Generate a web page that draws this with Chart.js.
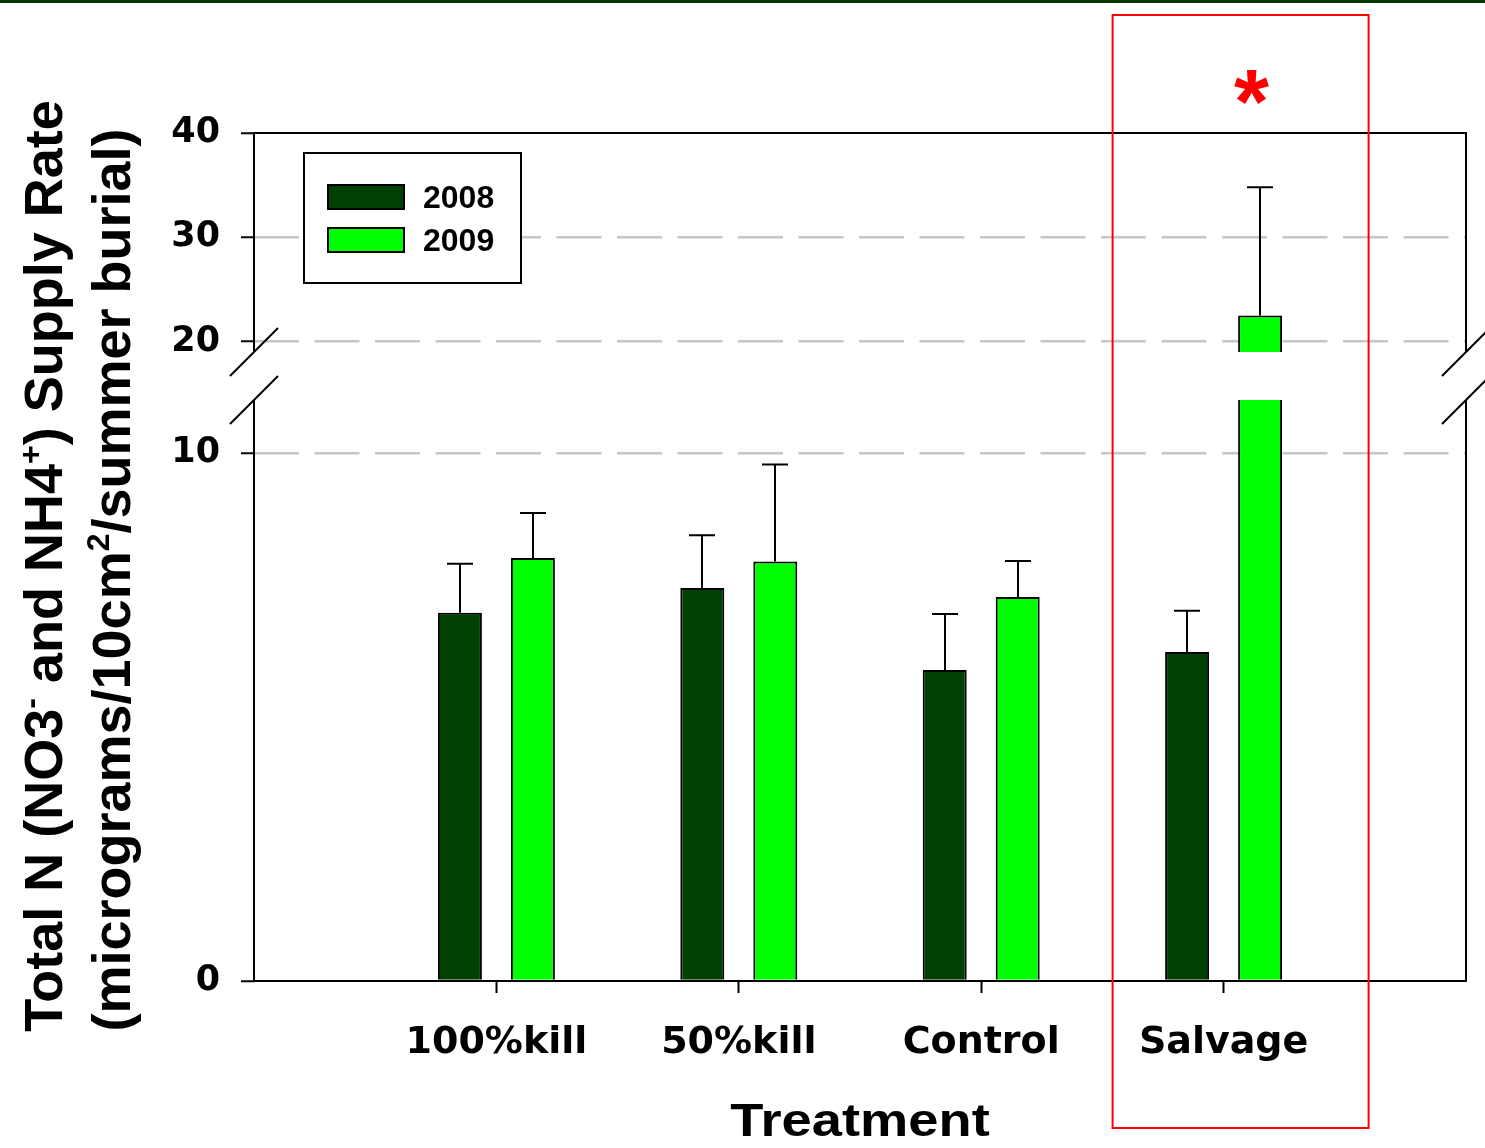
<!DOCTYPE html>
<html><head><meta charset="utf-8">
<script src="https://cdn.jsdelivr.net/npm/chart.js@4.4.1/dist/chart.umd.min.js"></script>
<style>html,body{margin:0;padding:0;background:#fff;overflow:hidden}canvas{display:block}</style>
</head><body><canvas id="c" width="1485" height="1148"></canvas>
<script>
// ---- data ----
const categories = ['', '100%kill', '50%kill', 'Control', 'Salvage', ''];
const seriesLabels = ['2008', '2009'];
const values2008 = [null, 6.97, 7.44, 5.89, 6.23, null];
const errors2008 = [null, 0.93, 1.00, 1.06, 0.78, null];
const values2009 = [null, 8.01, 7.94, 7.27, 22.5, null];
const errors2009 = [null, 0.85, 1.84, 0.68, 12.3, null];
const yTickValues = [0, 10, 20, 30, 40];
const yGridValues = [10, 20, 30];
const yBreakRange = [11, 19];
const significantCategory = 'Salvage';

// ---- broken linear scale ----
const BREAK_FRAC = [581 / 848, 629 / 848];
class BrokenLinearScale extends Chart.LinearScale {
  _knots() {
    return [[this.min, 0], [yBreakRange[0], BREAK_FRAC[0]], [yBreakRange[1], BREAK_FRAC[1]], [this.max, 1]];
  }
  getPixelForValue(value) {
    const k = this._knots();
    let i = 1;
    while (i < k.length - 1 && value > k[i][0]) i++;
    const a = k[i - 1], b = k[i];
    const f = a[1] + (value - a[0]) / (b[0] - a[0]) * (b[1] - a[1]);
    return this.bottom - f * (this.bottom - this.top);
  }
  getValueForPixel(pixel) {
    const f = (this.bottom - pixel) / (this.bottom - this.top);
    const k = this._knots();
    let i = 1;
    while (i < k.length - 1 && f > k[i][1]) i++;
    const a = k[i - 1], b = k[i];
    return a[0] + (f - a[1]) / (b[1] - a[1]) * (b[0] - a[0]);
  }
}
BrokenLinearScale.id = 'brokenLinear';
Chart.register(BrokenLinearScale);

const SANS = '"Liberation Sans", Arial, sans-serif';

function drawRich(ctx, cx, cy, segs, size) {
  const base = `bold ${size}px ${SANS}`;
  const sup = `bold ${Math.round(size * 0.6)}px ${SANS}`;
  let total = 0;
  segs.forEach(s => { ctx.font = s.sup ? sup : base; s.w = ctx.measureText(s.t).width; total += s.w; });
  ctx.save();
  ctx.translate(cx, cy);
  ctx.rotate(-Math.PI / 2);
  ctx.textAlign = 'left';
  ctx.textBaseline = 'alphabetic';
  ctx.fillStyle = '#000';
  let x = -total / 2;
  segs.forEach(s => { ctx.font = s.sup ? sup : base; ctx.fillText(s.t, x, s.sup ? -size * 0.38 : 0); x += s.w; });
  ctx.restore();
}

const decorPlugin = {
  id: 'decor',
  beforeDraw(chart) {
    const ctx = chart.ctx;
    ctx.save(); ctx.fillStyle = '#fff'; ctx.fillRect(0, 0, chart.width, chart.height); ctx.restore();
  },
  afterDatasetsDraw(chart) {
    const ctx = chart.ctx, ys = chart.scales.y, ca = chart.chartArea;
    const bTop = ys.getPixelForValue(yBreakRange[1]);
    const bBot = ys.getPixelForValue(yBreakRange[0]);
    ctx.save();
    ctx.fillStyle = '#fff';
    ctx.fillRect(ca.left + 2, bTop, ca.right - ca.left - 4, bBot - bTop);
    ctx.strokeStyle = '#000';
    ctx.lineWidth = 2;
    chart.data.datasets.forEach((ds, di) => {
      const meta = chart.getDatasetMeta(di);
      meta.data.forEach((bar, i) => {
        const v = ds.data[i], e = ds.errors[i];
        if (v == null || e == null) return;
        const top = ys.getPixelForValue(v + e);
        const x = Math.round(bar.x);
        ctx.beginPath();
        ctx.moveTo(x, bar.y); ctx.lineTo(x, top);
        ctx.moveTo(x - 13, top); ctx.lineTo(x + 13, top);
        ctx.stroke();
      });
    });
    ctx.restore();
  },
  afterDraw(chart) {
    const ctx = chart.ctx, ys = chart.scales.y, xs = chart.scales.x, ca = chart.chartArea;
    const bTop = ys.getPixelForValue(yBreakRange[1]);
    const bBot = ys.getPixelForValue(yBreakRange[0]);
    ctx.save();
    ctx.strokeStyle = '#000';
    ctx.lineWidth = 2;
    ctx.beginPath();
    ctx.moveTo(ca.left - 1, ca.top); ctx.lineTo(ca.right + 1, ca.top);
    ctx.moveTo(ca.left - 1, ca.bottom); ctx.lineTo(ca.right + 1, ca.bottom);
    [ca.left, ca.right].forEach(x => {
      ctx.moveTo(x, ca.top); ctx.lineTo(x, bTop - 1);
      ctx.moveTo(x, bBot); ctx.lineTo(x, ca.bottom);
      [bTop, bBot].forEach(y => {
        ctx.moveTo(x - 24, y + 24); ctx.lineTo(x + 24, y - 24);
      });
    });
    ctx.stroke();

    // legend
    const lx = 304, ly = 153;
    ctx.fillStyle = '#fff';
    ctx.fillRect(lx, ly, 217, 130);
    ctx.strokeRect(lx, ly, 217, 130);
    chart.data.datasets.forEach((ds, i) => {
      const sy = 185 + i * 43;
      ctx.fillStyle = ds.backgroundColor;
      ctx.fillRect(328, sy, 76, 24);
      ctx.strokeRect(328, sy, 76, 24);
      ctx.fillStyle = '#000';
      ctx.font = `bold 32px ${SANS}`;
      ctx.textAlign = 'left';
      ctx.textBaseline = 'alphabetic';
      ctx.fillText(ds.label, 423, sy + 23);
    });

    // axis titles
    drawRich(ctx, 62, 566, [
      { t: 'Total N (NO3' }, { t: '-', sup: true }, { t: ' and NH4' }, { t: '+', sup: true }, { t: ') Supply Rate' }
    ], 54);
    drawRich(ctx, 130, 580, [
      { t: '(micrograms/10cm' }, { t: '2', sup: true }, { t: '/summer burial)' }
    ], 54);
    ctx.save();
    ctx.fillStyle = '#000';
    ctx.font = `bold 46px ${SANS}`;
    ctx.textAlign = 'center';
    ctx.textBaseline = 'alphabetic';
    ctx.translate((ca.left + ca.right) / 2, 1136);
    ctx.scale(1.18, 1);
    ctx.fillText('Treatment', 0, 0);
    ctx.restore();

    // highlight box and significance mark
    const sIdx = categories.indexOf(significantCategory);
    const sx = xs.getPixelForValue(sIdx);
    ctx.strokeStyle = '#ff0000';
    ctx.lineWidth = 2;
    ctx.strokeRect(sx - 111, 15, 256, 1113);
    ctx.fillStyle = '#ff0000';
    ctx.font = `bold 90px ${SANS}`;
    ctx.textAlign = 'center';
    ctx.fillText('*', sx + 28, 133);

    // top rule
    ctx.fillStyle = '#073707';
    ctx.fillRect(0, 0, chart.width, 3);
    ctx.restore();
  }
};

new Chart(document.getElementById('c'), {
  type: 'bar',
  data: {
    labels: categories,
    datasets: [
      { label: seriesLabels[0], data: values2008, errors: errors2008, backgroundColor: '#004000', borderColor: '#000', borderWidth: 2, categoryPercentage: 0.6023, barPercentage: 0.6027 },
      { label: seriesLabels[1], data: values2009, errors: errors2009, backgroundColor: '#00ff00', borderColor: '#000', borderWidth: 2, categoryPercentage: 0.6023, barPercentage: 0.6027 }
    ]
  },
  options: {
    responsive: false,
    animation: false,
    devicePixelRatio: 1,
    layout: { padding: { top: 133, right: 19, left: 0, bottom: 0 } },
    plugins: { legend: { display: false }, tooltip: { enabled: false } },
    scales: {
      x: {
        type: 'category',
        offset: false,
        afterFit: s => { s.height = 167; s.paddingLeft = 0; s.paddingRight = 0; },
        grid: { display: true, offset: false, drawOnChartArea: false, drawTicks: true, tickLength: 12, tickWidth: 2,
                tickColor: c => categories[c.index] ? '#000' : 'rgba(0,0,0,0)' },
        border: { display: false },
        ticks: { font: { family: 'DejaVu Sans', weight: 'bold', size: 38 }, color: '#000', padding: 27, autoSkip: false, maxRotation: 0 }
      },
      y: {
        type: 'brokenLinear',
        min: 0, max: 40,
        afterBuildTicks: s => { s.ticks = yTickValues.map(v => ({ value: v })); },
        afterFit: s => { s.width = 254; },
        ticks: { font: { family: 'DejaVu Sans', weight: 'bold', size: 35 }, color: '#000', padding: 21 },
        grid: { color: c => (c.tick && yGridValues.includes(c.tick.value)) ? '#c6c6c6' : 'rgba(0,0,0,0)',
                lineWidth: 2.5, drawTicks: true, tickLength: 13, tickWidth: 2, tickColor: '#000' },
        border: { display: false, dash: [45, 15.5] }
      }
    }
  },
  plugins: [decorPlugin]
});
</script>
</body></html>
